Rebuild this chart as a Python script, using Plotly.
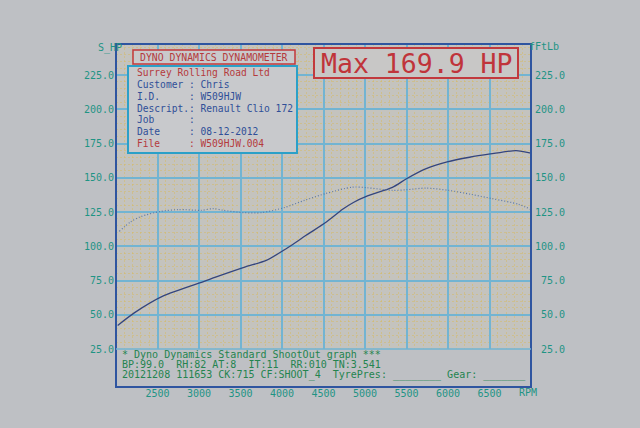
import plotly.graph_objects as go

# ---- data ----
power_rpm = [2020, 2220, 2570, 3070, 3200, 3560, 3810, 4050, 4290, 4530, 4730,
             4860, 5030, 5330, 5500, 5730, 5990, 6260, 6510, 6820, 7000]
power_hp = [42.2, 51.4, 63.8, 74.6, 77.5, 85, 89.7, 98.2, 108, 117.5, 127,
            132, 136.8, 143, 149.3, 156.5, 161.6, 165, 167.4, 169.9, 168]

torque_rpm = [2040, 2180, 2300, 2530, 2750, 3030, 3170, 3290, 3530, 3760, 4030, 4270,
              4520, 4850, 5020, 5330, 5500, 5740, 6010, 6280, 6530, 6850, 7000]
torque_ftlb = [110.9, 118, 121.7, 125.4, 126.8, 126.3, 127.5, 126.3, 124.6, 124.6, 128.3,
               133.5, 138.4, 143.2, 142.8, 140.8, 141.3, 142.5, 140.8, 137.9, 134.8,
               130.7, 126.8]

x_ticks = [2500, 3000, 3500, 4000, 4500, 5000, 5500, 6000, 6500]
y_ticks = [25, 50, 75, 100, 125, 150, 175, 200, 225]

info_lines = [
    ("Surrey Rolling Road Ltd", "#b53a3c"),
    ("Customer : Chris", "#2f4f98"),
    ("I.D.     : W509HJW", "#2f4f98"),
    ("Descript.: Renault Clio 172", "#2f4f98"),
    ("Job      :", "#2f4f98"),
    ("Date     : 08-12-2012", "#2f4f98"),
    ("File     : W509HJW.004", "#b53a3c"),
]
footer_lines = [
    "* Dyno Dynamics Standard ShootOut graph ***",
    "BP:99.0  RH:82 AT:8  IT:11  RR:010 TN:3.541",
    "20121208 111653 CK:715 CF:SHOOT_4  TyrePres: ________ Gear: _______",
]

# ---- layout geometry (pixels) ----
W, H = 640, 428
L, R, T, B = 116, 531, 44, 349
pw, ph = R - L, B - T

def px(x):
    return (x - L) / pw

def py(y):
    return (B - y) / ph

MONO = "DejaVu Sans Mono"
TEAL = "#1f9484"
GREEN = "#24844f"
BLUE_GRID = "#72b4d2"
YEL_GRID = "rgba(214,186,96,0.5)"
BORDER = "#2f55a0"

xrange_ = [2000, 7000]
yrange = [25, 247.7]
x_minor = [v for v in range(2100, 7000, 100) if v % 500]
y_minor = [v for v in range(30, 248, 5) if v % 25]

fig = go.Figure()
fig.add_trace(go.Scatter(x=power_rpm, y=power_hp, mode="lines", name="Power",
                         line=dict(color="#34457e", width=1.3, shape="spline",
                                   smoothing=0.7),
                         showlegend=False))
fig.add_trace(go.Scatter(x=torque_rpm, y=torque_ftlb, mode="lines", name="Torque",
                         yaxis="y2",
                         line=dict(color="#5a78a8", width=1.2, dash="1px,2px",
                                   shape="spline", smoothing=0.8),
                         showlegend=False))

fig.update_layout(
    width=W, height=H,
    margin=dict(l=L, r=W - R, t=T, b=H - B),
    paper_bgcolor="#bec0c4",
    plot_bgcolor="#c4c3be",
    font=dict(family=MONO, size=10, color=TEAL),
    xaxis=dict(range=xrange_, tickmode="array", tickvals=x_ticks,
               ticktext=[str(v) for v in x_ticks],
               showgrid=True, gridcolor=BLUE_GRID, gridwidth=1.5,
               minor=dict(tickmode="array", tickvals=x_minor, showgrid=True,
                          gridcolor=YEL_GRID, gridwidth=0.8, griddash="2px,2px"),
               zeroline=False, showline=False, ticks="",
               ticklabelstandoff=37, tickfont=dict(family=MONO, size=10, color=TEAL)),
    yaxis=dict(range=yrange, tickmode="array", tickvals=y_ticks,
               ticktext=[f"{v:.1f}" for v in y_ticks],
               showgrid=True, gridcolor=BLUE_GRID, gridwidth=1.5,
               minor=dict(tickmode="array", tickvals=y_minor, showgrid=True,
                          gridcolor=YEL_GRID, gridwidth=0.8, griddash="2px,2px"),
               zeroline=False, showline=False, ticks="", ticklabelstandoff=1,
               tickfont=dict(family=MONO, size=10, color=TEAL)),
    yaxis2=dict(range=yrange, tickmode="array", tickvals=y_ticks,
                ticktext=[f"{v:5.1f}".replace(" ", "\u00a0") for v in y_ticks],
                overlaying="y", side="right", showgrid=False, zeroline=False,
                showline=False, ticks="", ticklabelstandoff=3,
                tickfont=dict(family=MONO, size=10, color=TEAL)),
)

shapes = []
# outer border including footer
shapes.append(dict(type="rect", xref="paper", yref="paper", x0=0, x1=1,
                   y0=py(387), y1=1, line=dict(color=BORDER, width=2), layer="above"))
shapes.append(dict(type="line", xref="paper", yref="paper", x0=0, x1=1,
                   y0=0, y1=0, line=dict(color=BLUE_GRID, width=1.5), layer="above"))
# header box
shapes.append(dict(type="rect", xref="paper", yref="paper", x0=px(133), x1=px(295),
                   y0=py(64), y1=py(50), fillcolor="#c9c9cb",
                   line=dict(color="#c2393d", width=1.5), layer="above"))
# info box
shapes.append(dict(type="rect", xref="paper", yref="paper", x0=px(128), x1=px(297),
                   y0=py(153), y1=py(66), fillcolor="#c8c9cc",
                   line=dict(color="#2ba0c8", width=2), layer="above"))
# max box
shapes.append(dict(type="rect", xref="paper", yref="paper", x0=px(314), x1=px(518),
                   y0=py(78), y1=py(48), fillcolor="#c8c7c6",
                   line=dict(color="#c2393d", width=2), layer="above"))
fig.update_layout(shapes=shapes)

ann = []
def text(x, y, s, color, size=10, xanchor="left"):
    ann.append(dict(x=px(x), y=py(y), xref="paper", yref="paper", text=s,
                    showarrow=False, xanchor=xanchor, yanchor="middle",
                    font=dict(family=MONO, size=size, color=color)))

text(214, 57, "DYNO DYNAMICS DYNAMOMETER", "#b53a3c", 9.8, "center")
ys = [72.7, 84.5, 96.3, 108.1, 119.9, 131.2, 143.5]
for (s, c), y in zip(info_lines, ys):
    text(135, y, s.replace(" ", "&nbsp;"), c, 9.6)
text(416, 63, "Max 169.9 HP", "#c0343a", 26.5, "center")
for s, y in zip(footer_lines, [354, 364.5, 375]):
    text(120, y, s.replace(" ", "&nbsp;"), GREEN, 10)
text(124, 48, "S_HP", TEAL, 10, "right")
text(527, 46, "fFtLb", TEAL, 10, "left")
text(517, 392, "RPM", TEAL, 10, "left")
fig.update_layout(annotations=ann)

fig.write_html("out.html", config={"displayModeBar": False},
               post_script="document.body.style.margin='0';document.body.style.overflow='hidden';")
